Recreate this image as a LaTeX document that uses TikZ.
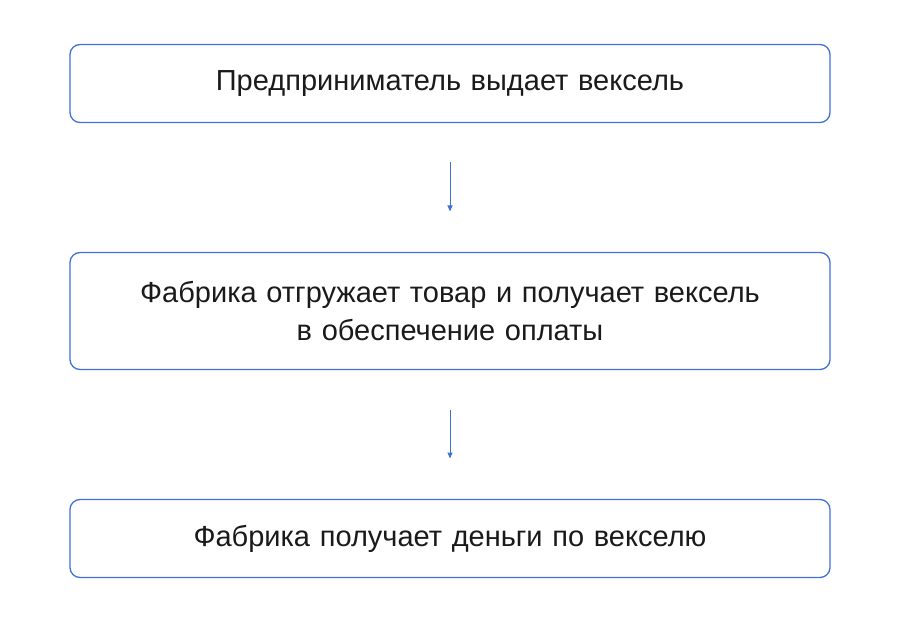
\documentclass[tikz,border=0pt]{standalone}
\usepackage{fontspec}
\setmainfont{Liberation Sans}
\usetikzlibrary{arrows.meta,positioning}
\definecolor{lineblue}{HTML}{3F72D4}
\definecolor{inkgray}{HTML}{1A1A1A}

\begin{document}
\begin{tikzpicture}[x=1pt,y=1pt,node distance=130pt,
  stage/.style={draw=lineblue,line width=1.3pt,rounded corners=10pt,
    outer sep=0pt,minimum width=760pt,text width=720pt,align=center,
    text=inkgray,font=\fontsize{29}{38}\selectfont},
  flow/.style={-{Triangle[length=6pt,width=5pt]},draw=lineblue,
    line width=1pt,shorten <=40pt,shorten >=41pt}]
 \useasboundingbox (0,0) rectangle (900,-628);
 \node[stage,minimum height=78pt] (issue) at (450,-83.5)
     {Предприниматель выдает вексель};
 \node[stage,minimum height=117pt,below=of issue] (ship)
     {Фабрика отгружает товар и получает вексель\\в обеспечение оплаты};
 \node[stage,minimum height=78pt,below=of ship] (paid)
     {Фабрика получает деньги по векселю};

 \draw[flow] (issue) -- (ship);
 \draw[flow] (ship) -- (paid);
\end{tikzpicture}
\end{document}
